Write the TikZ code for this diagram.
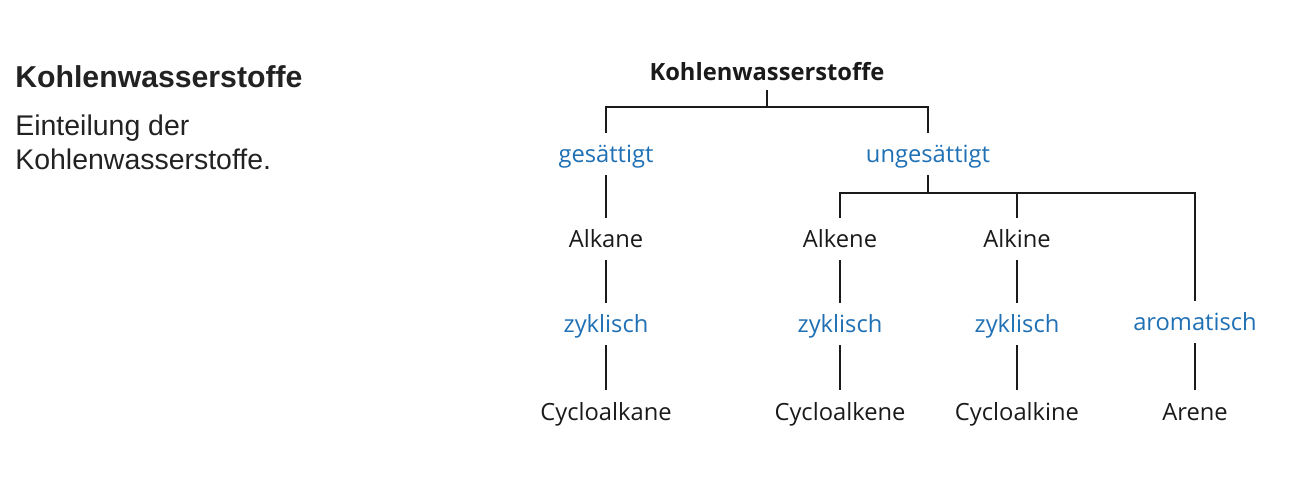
\documentclass[tikz,border=0pt]{standalone}
\usepackage{fontspec}
\setmainfont{Open Sans}
\newfontfamily\captionfont{Liberation Sans}
\usetikzlibrary{positioning,calc}
\definecolor{chemblue}{HTML}{1F70B4}
\definecolor{ink}{HTML}{1A1A1A}
\definecolor{captionink}{HTML}{222222}
\tikzset{
  classbox/.style={
    anchor=base, inner xsep=2pt, inner ysep=0pt,
    text height=0.6cm, text depth=0.24cm,
    font=\fontsize{13.5}{16}\selectfont, text=ink
  },
  propbox/.style={
    classbox, text=chemblue
  },
  rootbox/.style={
    classbox, text depth=0.18cm,
    font=\fontsize{13.5}{16}\selectfont\bfseries
  },
  treeline/.style={
    line width=1.2pt, color=ink
  },
  captiontext/.style={
    anchor=base west, inner sep=0pt, text=captionink,
    font=\captionfont\fontsize{16.2}{19}\selectfont
  },
}
\begin{document}
\begin{tikzpicture}[x=0.02cm, y=-0.02cm]
  \useasboundingbox (0,0) rectangle (1294,482);
  % caption on the left
  \node[captiontext, font=\captionfont\fontsize{17.2}{20}\selectfont\bfseries] (title) at (15,88) {Kohlenwasserstoffe};
  \node[captiontext] (cap1) at (15,136) {Einteilung der};
  \node[captiontext] (cap2) at (15,170) {Kohlenwasserstoffe.};
  % tree
  \node[rootbox] (root) at (767,81) {Kohlenwasserstoffe};
  \node[propbox] (satur) at (606,163) {gesättigt};
  \node[propbox] (unsat) at (928,163) {ungesättigt};
  \node[classbox] (alkane) at (606,248) {Alkane};
  \node[classbox] (alkene) at (840,248) {Alkene};
  \node[classbox] (alkine) at (1017,248) {Alkine};
  \node[propbox] (cyc1) at (606,333) {zyklisch};
  \node[propbox] (cyc2) at (840,333) {zyklisch};
  \node[propbox] (cyc3) at (1017,333) {zyklisch};
  \node[propbox] (arom) at (1195,331) {aromatisch};
  \node[classbox] (cycloalkane) at (606,420) {Cycloalkane};
  \node[classbox] (cycloalkene) at (840,420) {Cycloalkene};
  \node[classbox] (cycloalkine) at (1017,420) {Cycloalkine};
  \node[classbox] (arene) at (1195,420) {Arene};
  \coordinate (bar1) at (0,107);
  \coordinate (bar2) at (0,193);
  \draw[treeline] (root.south) -- (root.south |- bar1);
  \draw[treeline] (satur.north) -- (satur.north |- bar1) -- (unsat.north |- bar1) -- (unsat.north);
  \draw[treeline] (unsat.south) -- (unsat.south |- bar2);
  \draw[treeline] (alkene.north) -- (alkene.north |- bar2) -- (arom.north |- bar2) -- (arom.north);
  \draw[treeline] (alkine.north) -- (alkine.north |- bar2);
  \draw[treeline] (satur) -- (alkane);
  \draw[treeline] (alkane) -- (cyc1);
  \draw[treeline] (alkene) -- (cyc2);
  \draw[treeline] (alkine) -- (cyc3);
  \draw[treeline] (cyc1) -- (cycloalkane);
  \draw[treeline] (cyc2) -- (cycloalkene);
  \draw[treeline] (cyc3) -- (cycloalkine);
  \draw[treeline] (arom) -- (arene);
\end{tikzpicture}
\end{document}
